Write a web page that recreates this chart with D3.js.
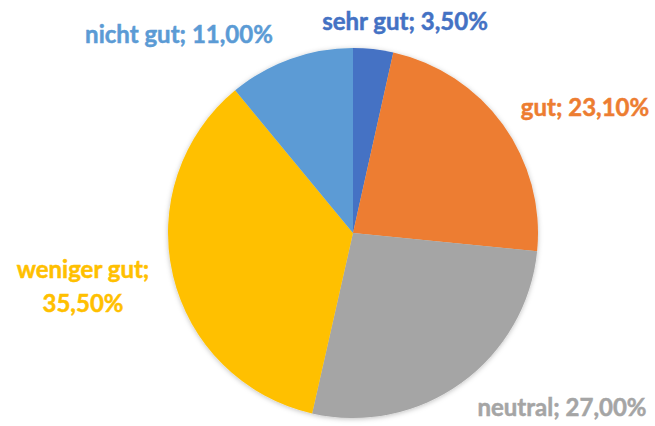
<!DOCTYPE html>
<html>
<head>
<meta charset="utf-8">
<script src="https://cdn.jsdelivr.net/npm/d3@7"></script>
<style>
  html, body { margin: 0; padding: 0; background: #fff; }
</style>
</head>
<body>
<div class="pieContainer"></div>
<script>
var categories = ["sehr gut", "gut", "neutral", "weniger gut", "nicht gut"];
var values = [3.5, 23.1, 27.0, 35.5, 11.0];
var colors = ["#4472C4", "#ED7D31", "#A5A5A5", "#FFC000", "#5B9BD5"];
// label baselines (layout only); "weniger gut" wraps onto two lines
var labelPos = [[405, 30], [585, 116], [562, 416], [83, 278], [179, 43]];

var width = 655, height = 426;
var cx = 353, cy = 233, radius = 185;

var svg = d3.select(".pieContainer")
    .append("svg")
    .attr("width", width)
    .attr("height", height);

var filter = svg.append("defs").append("filter")
    .attr("id", "shadow")
    .attr("x", "-20%").attr("y", "-20%")
    .attr("width", "140%").attr("height", "140%");
filter.append("feDropShadow")
    .attr("dx", 0).attr("dy", 1)
    .attr("stdDeviation", 2.5)
    .attr("flood-color", "#000")
    .attr("flood-opacity", 0.25);

var data = categories.map(function (c, i) {
    return { name: c, value: values[i], color: colors[i] };
});

var pie = d3.pie()
    .sort(null)
    .value(function (d) { return d.value; });

var arc = d3.arc()
    .innerRadius(0)
    .outerRadius(radius);

var g = svg.append("g")
    .attr("transform", "translate(" + cx + "," + cy + ")");

g.append("g")
    .attr("filter", "url(#shadow)")
    .selectAll("path")
    .data(pie(data))
    .enter()
    .append("path")
    .attr("d", arc)
    .attr("fill", function (d) { return d.data.color; });

function fmt(v) {
    return v.toFixed(2).replace(".", ",") + "%";
}

var labels = svg.selectAll("text.lbl")
    .data(data)
    .enter()
    .append("text")
    .attr("class", "lbl")
    .attr("text-anchor", "middle")
    .attr("font-family", "Lato, 'Open Sans', sans-serif")
    .attr("font-weight", "bold")
    .attr("font-size", "24px")
    .attr("fill", function (d) { return d.color; })
    .attr("stroke", function (d) { return d.color; })
    .attr("stroke-width", 0.5);

labels.each(function (d, i) {
    var t = d3.select(this);
    var p = labelPos[i];
    if (d.name === "weniger gut") {
        t.append("tspan").attr("x", p[0]).attr("y", p[1]).text(d.name + ";");
        t.append("tspan").attr("x", p[0]).attr("y", p[1] + 34).text(fmt(d.value));
    } else {
        t.append("tspan").attr("x", p[0]).attr("y", p[1]).text(d.name + "; " + fmt(d.value));
    }
});
</script>
</body>
</html>
